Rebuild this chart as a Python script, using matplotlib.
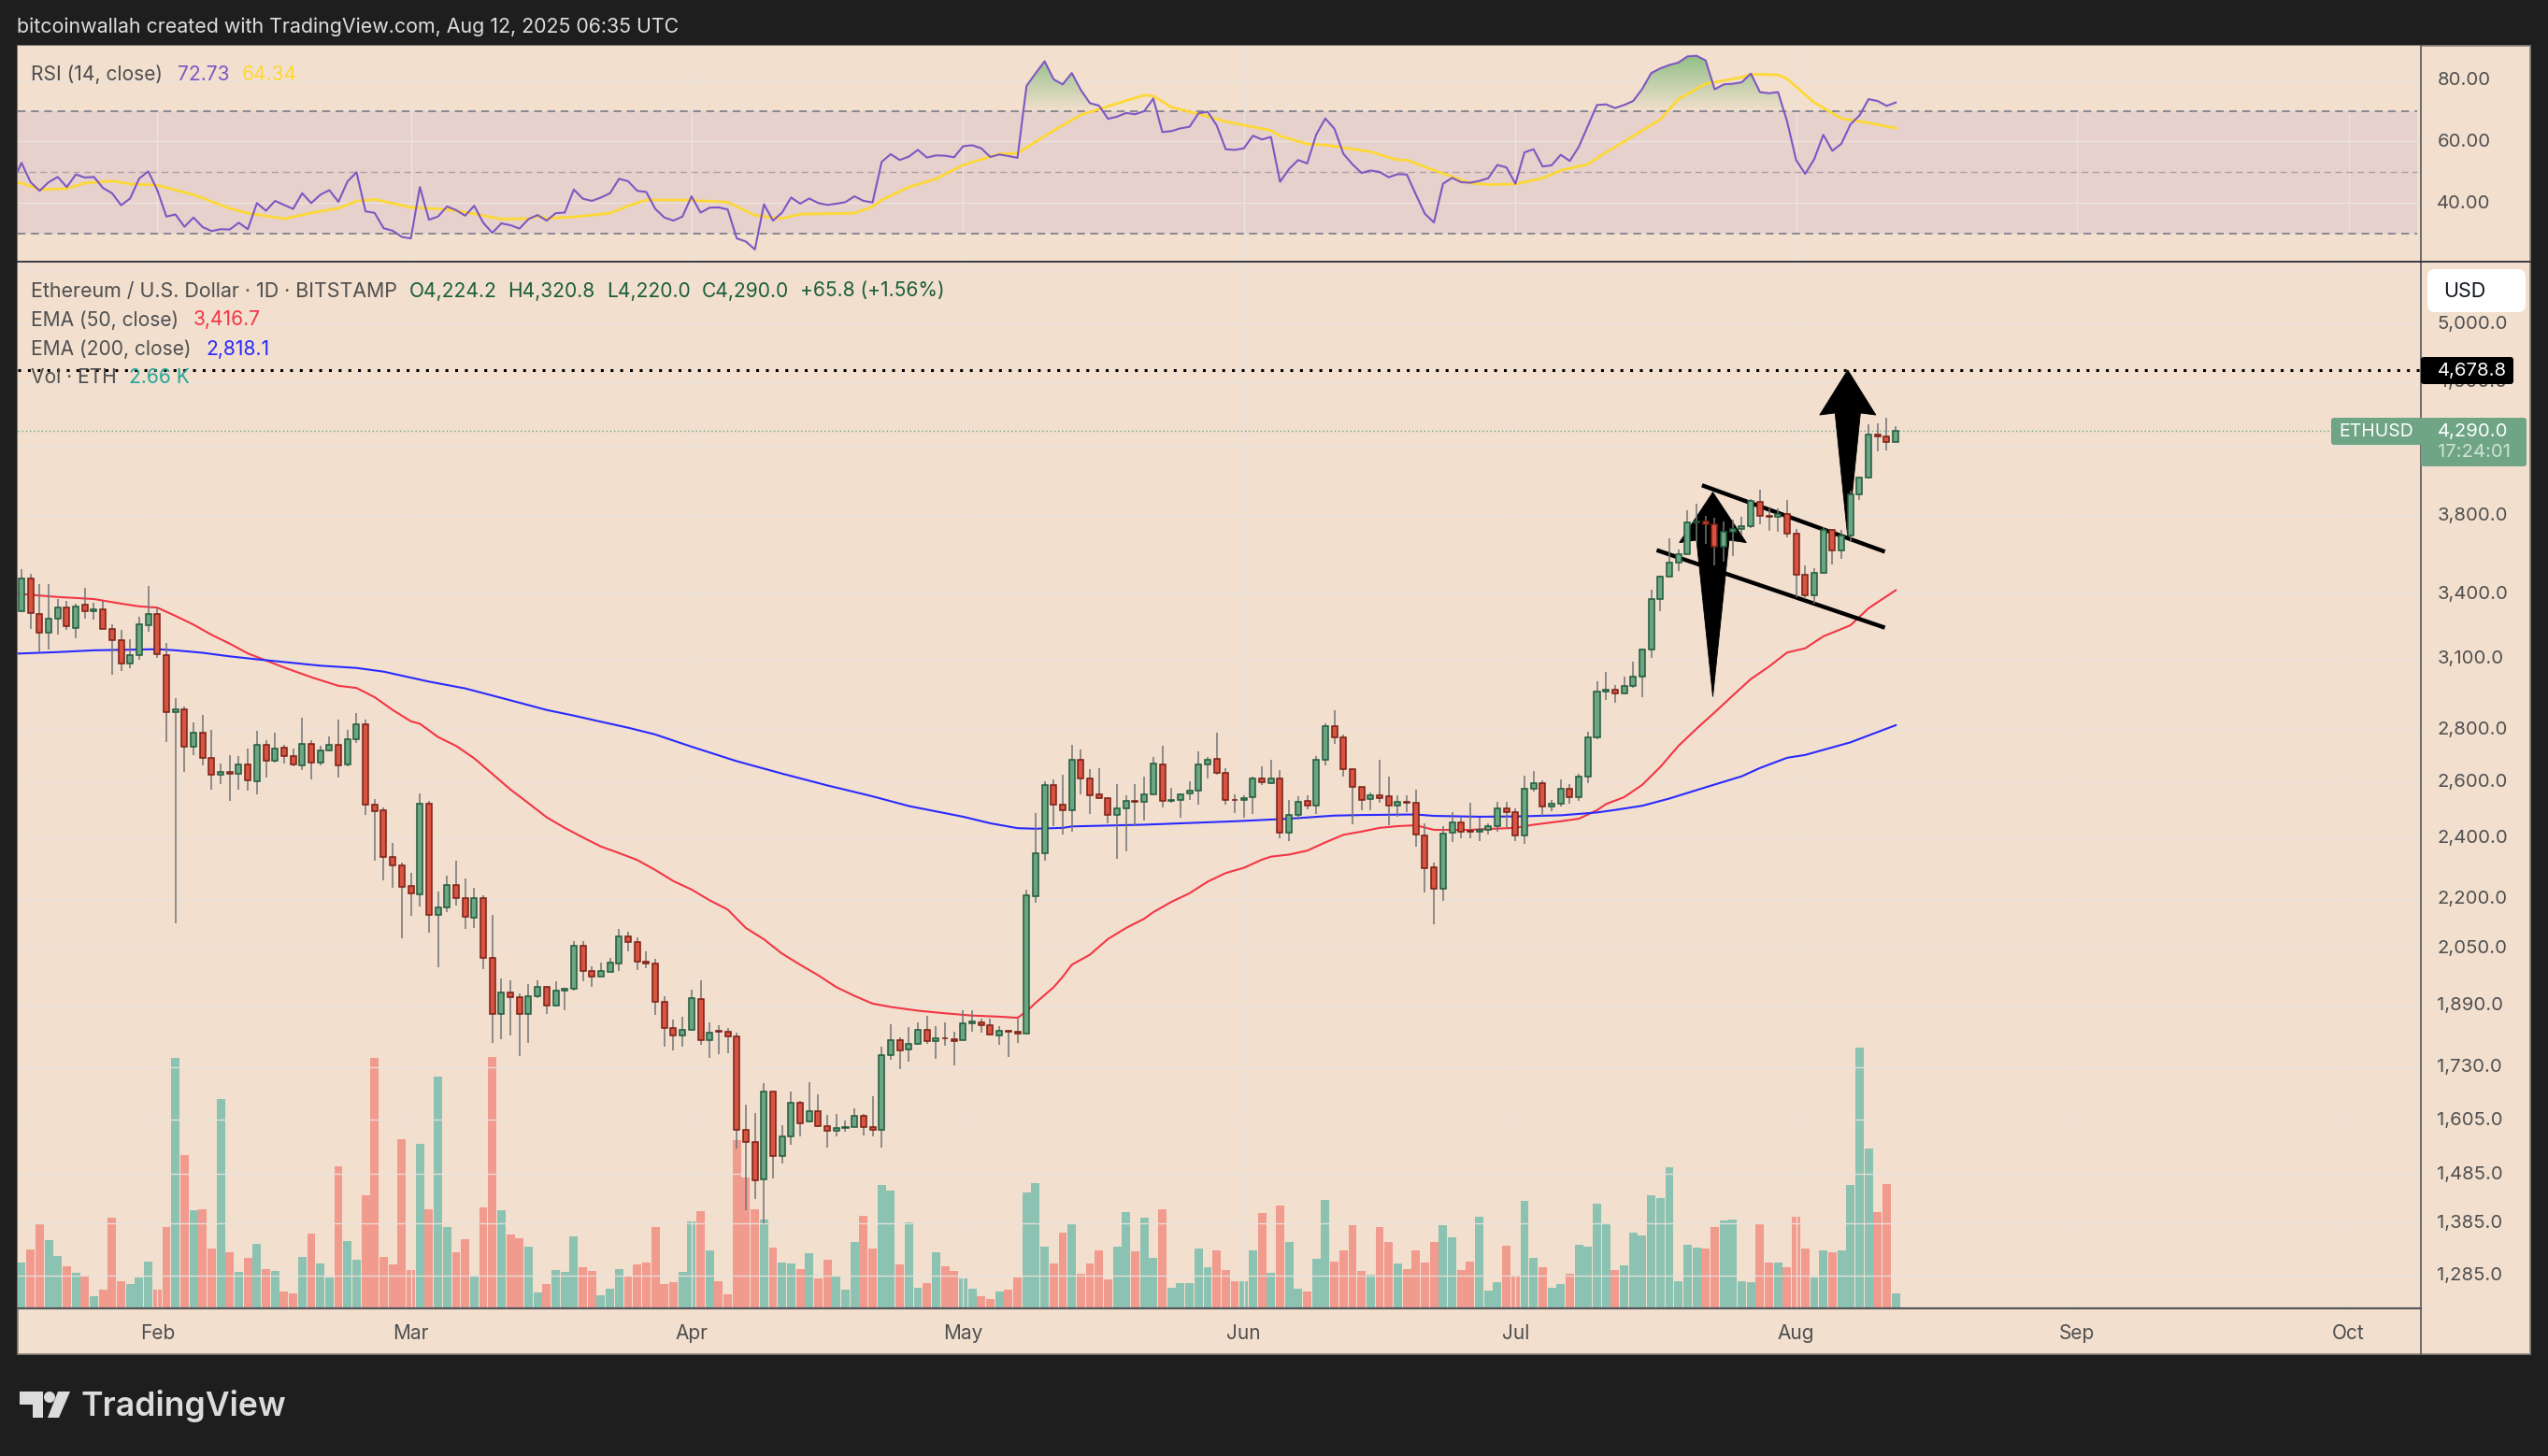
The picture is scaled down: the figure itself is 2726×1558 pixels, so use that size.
import matplotlib
matplotlib.use('Agg')
import matplotlib.pyplot as plt
import numpy as np
from matplotlib.lines import Line2D
from matplotlib.patches import Rectangle, FancyBboxPatch, Polygon, Circle
from matplotlib.path import Path
from matplotlib.ticker import NullLocator
from matplotlib.transforms import IdentityTransform, ScaledTranslation

plt.rcParams['font.family'] = ['Inter', 'DejaVu Sans']

W, H = 2726, 1558

# daily candles, 17 Jan to 12 Aug 2025
opens = [3314,3473,3305,3214,3279,3332,3238,3345,3314,3323,
3231,3183,3076,3113,3249,3301,3113,2871,2883,2732,
2789,2689,2625,2636,2629,2664,2600,2739,2679,2729,
2696,2661,2743,2671,2718,2739,2664,2764,2820,2517,
2497,2335,2308,2240,2215,2520,2149,2172,2243,2203,
2140,2203,2021,1867,1924,1911,1865,1914,1940,1888,
1929,1934,2058,1984,1969,1982,2006,2084,2067,2010,
2005,1899,1830,1810,1825,1906,1798,1821,1820,1808,
1581,1554,1474,1670,1523,1568,1645,1600,1625,1591,
1579,1585,1589,1614,1589,1581,1759,1798,1773,1788,
1825,1795,1803,1800,1798,1842,1845,1837,1810,1822,
1820,1815,2207,2348,2587,2517,2497,2682,2611,2553,
2540,2480,2503,2530,2527,2553,2664,2530,2533,2557,
2567,2664,2686,2632,2534,2533,2544,2611,2593,2611,
2417,2480,2530,2513,2682,2815,2771,2646,2580,2537,
2550,2547,2513,2527,2523,2407,2302,2232,2417,2453,
2424,2420,2427,2439,2503,2490,2407,2573,2593,2510,
2520,2573,2543,2618,2768,2955,2963,2947,2979,3019,
3140,3375,3483,3555,3598,3762,3768,3752,3635,3712,
3728,3742,3875,3798,3795,3809,3704,3491,3391,3502,
3723,3616,3696,3919,4012,4267,4253,4224.2]
highs = [3523,3497,3448,3448,3372,3366,3352,3430,3355,3366,
3253,3228,3184,3289,3438,3334,3167,2928,2896,2829,
2861,2798,2668,2701,2696,2726,2794,2758,2790,2740,
2726,2848,2758,2736,2773,2841,2798,2868,2841,2535,
2507,2383,2315,2284,2555,2528,2223,2275,2324,2263,
2235,2212,2150,1963,1959,1921,1948,1959,1943,1956,
1938,2072,2070,1998,2009,2022,2107,2099,2082,2040,
2018,1914,1852,1858,1931,1957,1844,1837,1830,1818,
1640,1620,1690,1670,1592,1670,1649,1692,1664,1615,
1617,1602,1632,1619,1659,1781,1838,1806,1831,1845,
1860,1833,1845,1820,1877,1875,1853,1853,1835,1822,
1853,2228,2487,2600,2608,2624,2739,2721,2646,2650,
2540,2590,2550,2590,2618,2694,2736,2577,2557,2600,
2714,2694,2790,2650,2553,2550,2618,2657,2682,2643,
2533,2547,2550,2696,2826,2879,2782,2646,2580,2560,
2682,2618,2551,2551,2570,2450,2317,2441,2488,2470,
2523,2469,2450,2527,2527,2503,2621,2639,2604,2533,
2607,2590,2629,2793,3002,3041,2983,3022,3085,3144,
3419,3490,3680,3619,3830,3866,3800,3790,3768,3780,
3795,3890,3944,3839,3839,3884,3728,3539,3526,3739,
3728,3723,3937,4018,4331,4337,4372,4320.8]
lows = [3310,3233,3129,3141,3206,3230,3190,3282,3278,3235,
3028,3043,3058,3095,3221,3103,2752,2123,2638,2702,
2660,2569,2592,2529,2569,2566,2552,2617,2670,2669,
2657,2643,2610,2661,2714,2617,2657,2749,2479,2322,
2257,2233,2078,2148,2176,2097,1994,2159,2179,2106,
2111,1989,1790,1800,1810,1757,1790,1908,1865,1885,
1877,1930,1956,1939,1969,1982,1983,2041,1987,1991,
1863,1780,1772,1782,1822,1787,1753,1763,1765,1541,
1411,1433,1385,1476,1508,1549,1566,1598,1588,1543,
1568,1578,1589,1570,1568,1543,1749,1726,1743,1786,
1788,1750,1784,1735,1798,1819,1817,1810,1786,1755,
1791,1815,2188,2322,2441,2412,2419,2552,2482,2536,
2451,2329,2353,2443,2459,2553,2506,2523,2468,2533,
2516,2613,2625,2516,2486,2468,2482,2587,2590,2397,
2390,2463,2499,2482,2660,2745,2620,2445,2496,2496,
2523,2442,2473,2488,2371,2221,2122,2194,2385,2397,
2399,2387,2412,2419,2434,2390,2378,2563,2477,2493,
2510,2520,2530,2596,2761,2921,2910,2943,2971,2934,
3104,3316,3480,3512,3595,3660,3650,3539,3560,3587,
3700,3735,3755,3720,3715,3683,3381,3373,3352,3500,
3547,3571,3661,3887,4010,4165,4170,4220]
closes = [3473,3308,3214,3283,3332,3244,3340,3314,3323,3235,
3183,3076,3113,3253,3305,3117,2871,2883,2732,2789,
2689,2625,2636,2629,2664,2604,2739,2679,2725,2696,
2664,2743,2671,2718,2739,2661,2764,2820,2517,2493,
2335,2308,2237,2218,2520,2149,2172,2243,2203,2143,
2203,2021,1865,1924,1911,1865,1914,1940,1890,1929,
1935,2058,1984,1969,1984,2008,2084,2067,2010,2005,
1899,1830,1810,1825,1909,1798,1817,1820,1808,1581,
1554,1472,1670,1523,1568,1645,1597,1625,1591,1579,
1585,1589,1614,1589,1581,1759,1798,1771,1788,1825,
1795,1803,1802,1795,1842,1847,1837,1813,1822,1820,
1815,2210,2348,2587,2517,2497,2682,2611,2550,2540,
2480,2503,2530,2527,2553,2668,2530,2533,2553,2567,
2664,2682,2632,2533,2533,2540,2611,2597,2611,2417,
2480,2527,2513,2682,2815,2771,2646,2580,2533,2550,
2540,2513,2527,2523,2410,2299,2232,2413,2453,2420,
2422,2427,2440,2503,2490,2407,2573,2593,2510,2520,
2573,2543,2618,2768,2955,2963,2947,2979,3019,3140,
3375,3483,3555,3598,3762,3768,3753,3635,3715,3728,
3742,3880,3798,3793,3812,3702,3491,3391,3502,3723,
3616,3696,3919,4012,4267,4253,4222,4290]

# volume in thousands of ETH
volumes = [8.1,10.5,15.0,12.1,9.3,7.5,6.3,5.8,2.2,3.3,
16.1,4.8,4.3,5.5,8.3,3.3,14.5,44.5,27.3,17.5,
17.6,10.6,37.2,10.0,6.5,9.0,11.5,7.0,6.6,3.0,
2.7,9.1,13.3,8.0,5.5,25.3,12.0,8.6,20.1,44.5,
9.1,7.8,30.1,6.8,29.3,17.6,41.2,14.5,10.0,12.3,
5.7,18.0,44.7,17.5,13.1,12.5,11.0,2.8,4.3,6.8,
6.5,12.8,7.3,6.6,2.3,3.5,7.0,5.7,7.8,8.1,
14.5,4.3,4.7,6.5,15.5,17.3,10.3,4.8,2.5,29.9,
23.3,17.6,15.8,10.8,8.1,8.0,7.0,9.8,5.3,8.6,
5.7,3.3,11.8,16.5,10.6,21.9,20.9,7.8,15.3,3.7,
4.5,10.0,7.5,6.6,5.3,3.5,2.2,1.7,3.0,3.3,
5.5,20.6,22.3,11.0,8.0,13.5,15.1,6.1,8.0,10.3,
5.2,11.0,17.1,10.1,16.1,9.0,17.6,3.7,4.5,4.5,
10.6,7.3,10.3,6.8,4.8,4.8,10.3,17.0,6.3,18.3,
11.8,3.5,3.0,8.8,19.3,8.3,10.3,14.8,6.6,6.0,
14.5,11.8,8.0,7.0,10.3,8.1,11.8,14.8,12.6,6.8,
8.3,16.3,3.2,4.7,11.1,5.8,19.1,9.0,7.3,3.7,
4.3,6.1,11.3,11.0,18.6,15.1,6.8,7.6,13.5,13.0,
20.1,19.6,25.1,4.8,11.3,10.8,10.6,14.5,15.6,15.8,
4.8,4.7,15.0,8.1,8.1,7.3,16.3,10.6,5.5,10.3,
10.0,10.3,21.9,46.4,28.4,17.1,22.1,2.66]

# rsi starts one day before the first candle, the line runs off the left edge
rsi_days = list(range(0, 209))
rsi = [46.5,53.1,46.8,44.0,46.8,48.5,45.2,49.3,48.3,48.5,44.9,
43.2,39.3,41.5,48.0,50.3,44.2,35.6,36.3,32.3,35.3,
32.2,30.9,31.5,31.4,33.6,31.5,40.0,37.5,40.7,39.4,
38.1,43.2,40.0,42.7,44.2,40.4,47.0,50.0,37.3,36.8,
31.8,31.0,29.0,28.5,45.2,34.6,35.6,38.9,37.7,35.9,
39.1,33.6,30.3,33.4,32.8,31.7,34.8,36.1,34.3,36.7,
36.9,44.4,41.4,40.7,41.8,43.2,47.9,47.1,44.0,43.6,
38.1,35.3,34.3,35.6,42.2,36.9,38.5,38.6,37.9,28.5,
27.5,24.9,39.6,34.3,36.9,41.8,39.8,41.5,40.0,39.4,
39.8,40.3,42.2,40.7,40.2,53.4,55.9,54.0,55.1,57.3,
54.8,55.5,55.4,54.9,58.5,58.8,57.8,55.0,55.8,55.3,
54.7,78.1,82.2,86.1,80.2,78.6,82.3,76.8,72.5,71.7,
67.4,68.1,69.3,68.9,69.9,74.0,63.1,63.4,64.3,64.8,
69.2,69.7,65.3,57.5,57.3,57.8,61.9,60.7,61.5,46.9,
51.1,54.0,52.9,62.3,67.5,64.2,56.0,52.6,49.8,50.6,
50.1,48.4,49.4,49.3,42.8,36.5,33.7,46.3,48.2,46.8,
46.6,47.2,48.1,52.4,51.6,46.3,56.5,57.5,51.9,52.3,
55.7,53.7,58.3,65.1,71.9,72.1,70.9,71.9,73.2,77.1,
82.3,83.8,84.9,85.7,87.7,87.9,86.4,77.0,78.6,78.8,
79.3,82.1,76.1,75.7,76.1,66.6,54.0,49.5,54.3,62.2,
57.0,59.3,65.6,68.5,73.8,73.2,71.6,72.73]

# slower lines, read at the days where they bend
rsi_ma_days = [0,1,3,6,8,11,13,16,20,24,26,30,33,36,38,40,44,48,51,54,57,58,59,62,66,68,70,74,79,82,85,87,93,95,96,99,102,
105,109,111,115,118,122,125,126,128,132,134,139,140,143,145,150,153,154,157,161,163,166,169,171,174,176,178,182,184,187,191,192,195,196,199,201,202,205,208]
rsi_ma = [46.9,46.5,44.4,44.7,46.5,47.2,46.2,45.8,42.7,38.3,36.7,34.9,36.8,38.3,40.6,41.2,38.6,37.9,36.5,34.8,34.9,35.8,35.0,35.5,36.7,39.1,41.0,41.0,40.3,36.0,35.0,36.4,36.7,38.8,41.0,45.2,47.9,
52.4,56.0,56.2,63.6,68.7,72.4,75.1,74.8,71.2,68.2,66.5,63.6,61.8,59.2,58.9,56.7,54.0,54.0,50.7,46.5,46.0,46.2,48.1,50.6,52.6,56.5,60.0,67.2,73.8,78.8,80.9,81.9,81.7,80.4,72.7,69.2,67.5,66.1,64.34]

ema50_days = [0,1,5,9,12,14,16,18,20,22,24,26,28,30,33,36,38,40,42,44,45,47,49,51,53,55,57,59,61,63,65,67,69,71,
73,75,77,79,81,83,85,87,89,91,93,95,97,100,103,106,109,111,112,113,115,116,117,119,121,123,125,126,128,130,132,134,136,138,139,141,143,145,147,149,151,153,155,157,159,161,
162,166,168,171,173,175,176,178,180,182,184,186,188,190,192,194,196,198,200,203,205,208]
ema50 = [3400,3398,3384,3374,3352,3339,3333,3294,3253,3206,3166,3122,3091,3060,3018,2981,2972,2933,2880,2834,2824,2771,2736,2688,2629,2571,2521,2471,2434,2401,2370,2348,2325,2292,
2256,2229,2195,2166,2110,2076,2034,2002,1972,1939,1915,1894,1885,1875,1868,1862,1859,1856,1873,1896,1939,1968,2002,2031,2077,2110,2138,2158,2190,2217,2254,2282,2299,2326,2336,2343,2356,2384,2410,2421,2434,2440,2443,2427,2427,2427,
2429,2434,2445,2457,2466,2496,2518,2543,2588,2655,2736,2804,2870,2940,3010,3064,3126,3145,3199,3250,3330,3416.7]

ema200_days = [0,1,5,9,12,16,18,21,24,27,30,34,38,41,44,46,50,53,56,59,62,65,68,71,75,80,85,90,95,99,105,108,111,113,116,117,125,135,141,146,149,155,157,162,166,171,175,177,180,183,187,191,193,196,198,203,208]
ema200 = [3121,3122,3128,3136,3138,3141,3136,3125,3109,3096,3084,3068,3058,3042,3016,2999,2970,2940,2910,2880,2857,2832,2808,2781,2733,2677,2630,2586,2546,2511,2473,2450,2433,2431,2434,2439,2445,2457,2466,2477,2479,2481,2476,2473,2474,2478,2488,2497,2512,2538,2579,2620,2651,2690,2701,2750,2818.1]

month_days = [16,44,75,105,136,166,197,228,258]
month_labels = ['Feb','Mar','Apr','May','Jun','Jul','Aug','Sep','Oct']

price_ticks = [5400,5000,4600,4200,3800,3400,3100,2800,2600,2400,2200,2050,1890,1730,1605,1485,1385,1285]
rsi_ticks = [80,60,40]

# trend drawings, (day, price)
channel_top = [(186.6,3969),(206.8,3610)]
channel_bottom = [(181.6,3618),(206.8,3239)]
arrow_left = [(187.8,3930),(191.5,3657),(189.6,3670),(187.8,2935),(186.0,3670),(184.1,3657)]
arrow_right = [(202.7,4678.8),(205.8,4388),(204.1,4400),(202.7,3684),(201.3,4400),(199.6,4388)]
breakout_level = 4678.8
last_price = 4290

bg = '#F2DFCE'
dark = '#1E1E1E'
grid_col = '#EBE3DD'
txt = '#4F4F4F'
up = '#6BA583'
up_edge = '#1F5A3C'
down = '#D75442'
down_edge = '#7A1E14'


def fx(x):
    return x/W


def fy(y):
    return 1-y/H


def pane(x0, y0, x1, y1):
    return fig.add_axes([fx(x0), fy(y1), fx(x1-x0), (y1-y0)/H])


def label(x, y, s, color=txt, size=15.1, **kw):
    kw.setdefault('va', 'center')
    kw.setdefault('zorder', 8)
    fig.text(fx(x), fy(y), s, color=color, fontsize=size, **kw)


def hline(y, x0, x1, color, lw=1.0):
    fig.add_artist(Line2D([fx(x0), fx(x1)], [fy(y), fy(y)], color=color, lw=lw, zorder=5))


def tag(x0, y0, x1, y1, color, round_px=4, z=6):
    fig.add_artist(FancyBboxPatch((x0+round_px, H-y1+round_px), x1-x0-2*round_px, y1-y0-2*round_px,
                                  boxstyle='round,pad=%d,rounding_size=%d' % (round_px, round_px),
                                  fc=color, ec='none', transform=IdentityTransform(), zorder=z))


def lift_labels(a):
    for t in a.get_yticklabels():
        t.set_transform(t.get_transform()+ScaledTranslation(0, 1.5/100, fig.dpi_scale_trans))


fig = plt.figure(figsize=(W/100, H/100), dpi=100, facecolor=dark)
fig.add_artist(Rectangle((fx(19), fy(1449)), fx(2707-19), (1449-49)/H, fc=bg, ec='#8C857C', lw=1.2,
                         transform=fig.transFigure, zorder=-1))

days = np.arange(1, len(closes)+1)
xlim = (0.587, 266.0)

# ---- RSI pane
ax_rsi = pane(19, 49, 2590, 280)
ax_rsi.set_facecolor(bg)
ax_rsi.set_xlim(*xlim)
ax_rsi.set_ylim(20.94, 91.15)
ax_rsi.axhspan(30, 70, xmax=0.9985, color='#7E57C2', alpha=0.10, lw=0, zorder=1)
for v in rsi_ticks:
    ax_rsi.axhline(v, color=grid_col, lw=1.0, zorder=1.5)
for d in month_days:
    ax_rsi.axvline(d, color=grid_col, lw=1.0, zorder=1.5)
ax_rsi.axhline(70, xmax=0.9985, color='#787B86', lw=1.2, dashes=(5, 3.5), zorder=2)
ax_rsi.axhline(50, xmax=0.9985, color='#787B86', lw=1.0, alpha=0.55, dashes=(5, 3.5), zorder=2)
ax_rsi.axhline(30, xmax=0.9985, color='#787B86', lw=1.2, dashes=(5, 3.5), zorder=2)

rsi_arr = np.array(rsi)
over = ax_rsi.fill_between(rsi_days, rsi_arr, 70, where=rsi_arr >= 70, interpolate=True, color='none', lw=0)
clip = Path.make_compound_path(*over.get_paths())
grad = np.zeros((100, 2, 4))
grad[..., :3] = matplotlib.colors.to_rgb('#7FBA78')
grad[..., 3] = np.linspace(0.85, 0.0, 100)[:, None]
im = ax_rsi.imshow(grad, extent=(1, 208, 70, 88), aspect='auto', zorder=2.5, interpolation='bilinear')
im.set_clip_path(clip, transform=ax_rsi.transData)
ax_rsi.set_xlim(*xlim)
ax_rsi.set_ylim(20.94, 91.15)
ax_rsi.plot(rsi_days, rsi, color='#7E57C2', lw=1.5, zorder=4)
ax_rsi.plot(rsi_ma_days, rsi_ma, color='#FDD835', lw=2.0, zorder=3.5)
ax_rsi.yaxis.tick_right()
ax_rsi.set_yticks(rsi_ticks, ['%.2f' % v for v in rsi_ticks])
ax_rsi.tick_params(axis='y', length=0, pad=12.5, labelsize=14.6, labelcolor=txt)
ax_rsi.set_xticks([])
lift_labels(ax_rsi)
for s in ax_rsi.spines.values():
    s.set_visible(False)

# ---- price pane, volume sits behind it on its own scale
ax = pane(19, 280, 2590, 1400)
ax_vol = ax.twinx()
ax.set_zorder(2)
ax_vol.set_zorder(1)
ax.patch.set_visible(False)
ax_vol.patch.set_facecolor(bg)
ax_vol.patch.set_visible(True)

vol_colors = ['#8CC2B1' if c >= o else '#F19A8E' for o, c in zip(opens, closes)]
ax_vol.bar(days, volumes, width=0.92, color=vol_colors, lw=0)
ax_vol.set_xlim(*xlim)
ax_vol.set_ylim(0, 186.3)
ax_vol.yaxis.set_visible(False)
ax_vol.set_xticks([])

ax.set_yscale('log')
ax.set_xlim(*xlim)
ax.set_ylim(1226, 5461)
for v in price_ticks:
    ax.axhline(v, color=grid_col, lw=1.0, alpha=0.9, zorder=0.5)
for d in month_days:
    ax.axvline(d, color=grid_col, lw=1.0, alpha=0.9, zorder=0.5)

ax.plot(ema50_days, ema50, color='#F23645', lw=1.5, zorder=1.5)
ax.plot(ema200_days, ema200, color='#2A2AFF', lw=1.5, zorder=1.5)
ax.axhline(last_price, color=up, lw=1.0, ls=(0, (1, 2)), zorder=1)
ax.axhline(breakout_level, color='black', lw=2.2, ls=(0, (1, 2.4)), zorder=1.2)

ax.add_patch(Polygon(arrow_left, closed=True, fc='black', ec='black', lw=0.6, zorder=2))
ax.add_patch(Polygon(arrow_right, closed=True, fc='black', ec='black', lw=0.6, zorder=2))
ax.plot(*zip(*channel_top), color='black', lw=3.2, solid_capstyle='butt', zorder=2)
ax.plot(*zip(*channel_bottom), color='black', lw=3.2, solid_capstyle='butt', zorder=2)

wick_col = '#737375'
ax.vlines(days, lows, highs, color=wick_col, lw=1.1, zorder=3)
for d, o, c in zip(days, opens, closes):
    rising = c >= o
    ax.bar(d, abs(c-o), bottom=min(o, c), width=0.62, color=up if rising else down,
           edgecolor=up_edge if rising else down_edge, lw=1.1, zorder=4)

ax.yaxis.tick_right()
# 5,400 sits behind the USD button in the original, so no text for it
price_labels = ['' if v == 5400 else '{:,.1f}'.format(v) for v in price_ticks]
ax.set_yticks(price_ticks, price_labels)
ax.yaxis.set_minor_locator(NullLocator())
ax.tick_params(axis='y', which='both', length=0, pad=12.5, labelsize=14.6, labelcolor=txt)
ax.set_xticks(month_days, month_labels)
ax.tick_params(axis='x', length=0, pad=12, labelsize=15, labelcolor=txt)
ax.set_xlim(*xlim)
ax.set_ylim(1226, 5461)
lift_labels(ax)
for a in (ax, ax_vol):
    for s in a.spines.values():
        s.set_visible(False)

# ---- pane borders
fig.add_artist(Line2D([fx(2590), fx(2590)], [fy(49), fy(1449)], color='#55565C', lw=1.2, zorder=5))
hline(280, 19, 2707, '#2A2E39', 1.3)
hline(1400, 19, 2590, '#55565C', 1.6)

# ---- legends
label(18, 28.5, 'bitcoinwallah created with TradingView.com, Aug 12, 2025 06:35 UTC', color='#DDDDDD', size=15.4)
label(33, 79.5, 'RSI (14, close)')
label(190, 79.5, '72.73', color='#7E57C2')
label(259, 79.5, '64.34', color='#FDD835')
label(33, 311.5, 'Ethereum / U.S. Dollar · 1D · BITSTAMP', size=15.4)
ohlc_col = '#1B5E3A'
label(438, 311.5, 'O4,224.2', color=ohlc_col)
label(543, 311.5, 'H4,320.8', color=ohlc_col)
label(649, 311.5, 'L4,220.0', color=ohlc_col)
label(751, 311.5, 'C4,290.0', color=ohlc_col)
label(856, 311.5, '+65.8 (+1.56%)', color=ohlc_col)
label(33, 342.5, 'EMA (50, close)')
label(207, 342.5, '3,416.7', color='#F23645')
label(33, 373.5, 'EMA (200, close)')
label(220, 373.5, '2,818.1', color='#2A2AFF')
label(33, 404, 'Vol · ETH')
label(138, 404, '2.66 K', color='#26A69A')

# ---- price tags on the right
tag(2597, 288, 2702, 334, 'white', 8)
label(2614, 311.5, 'USD', color='#131722', size=15.5)
tag(2590, 382, 2689, 411, 'black', 3)
label(2608, 397, '4,678.8', color='white', size=14.6)
tag(2494, 447, 2592, 476, '#6FA585', 3)
label(2502, 462, 'ETHUSD', color='white', size=14)
tag(2590, 447, 2703, 499, '#6FA585', 3)
label(2608, 462, '4,290.0', color='white', size=14.6)
label(2608, 484, '17:24:01', color='#CFE3D6', size=14.6)

# ---- logo
logo_col = '#DCDCDC'
tv_bar = [(21, 1489), (46, 1489), (46, 1517), (35, 1517), (35, 1503), (21, 1503)]
tv_slash = [(62, 1489), (75, 1489), (63, 1517), (51, 1517)]
fig.add_artist(Polygon([(fx(x), fy(y)) for x, y in tv_bar], closed=True, fc=logo_col, ec='none', transform=fig.transFigure, zorder=6))
fig.add_artist(Polygon([(fx(x), fy(y)) for x, y in tv_slash], closed=True, fc=logo_col, ec='none', transform=fig.transFigure, zorder=6))
fig.add_artist(Circle((53, H-1495), 6, fc=logo_col, ec='none', transform=IdentityTransform(), zorder=6))
label(87, 1505, 'TradingView', color=logo_col, size=25.6, fontweight='semibold')

fig.savefig('out.png', dpi=100, facecolor=dark)
